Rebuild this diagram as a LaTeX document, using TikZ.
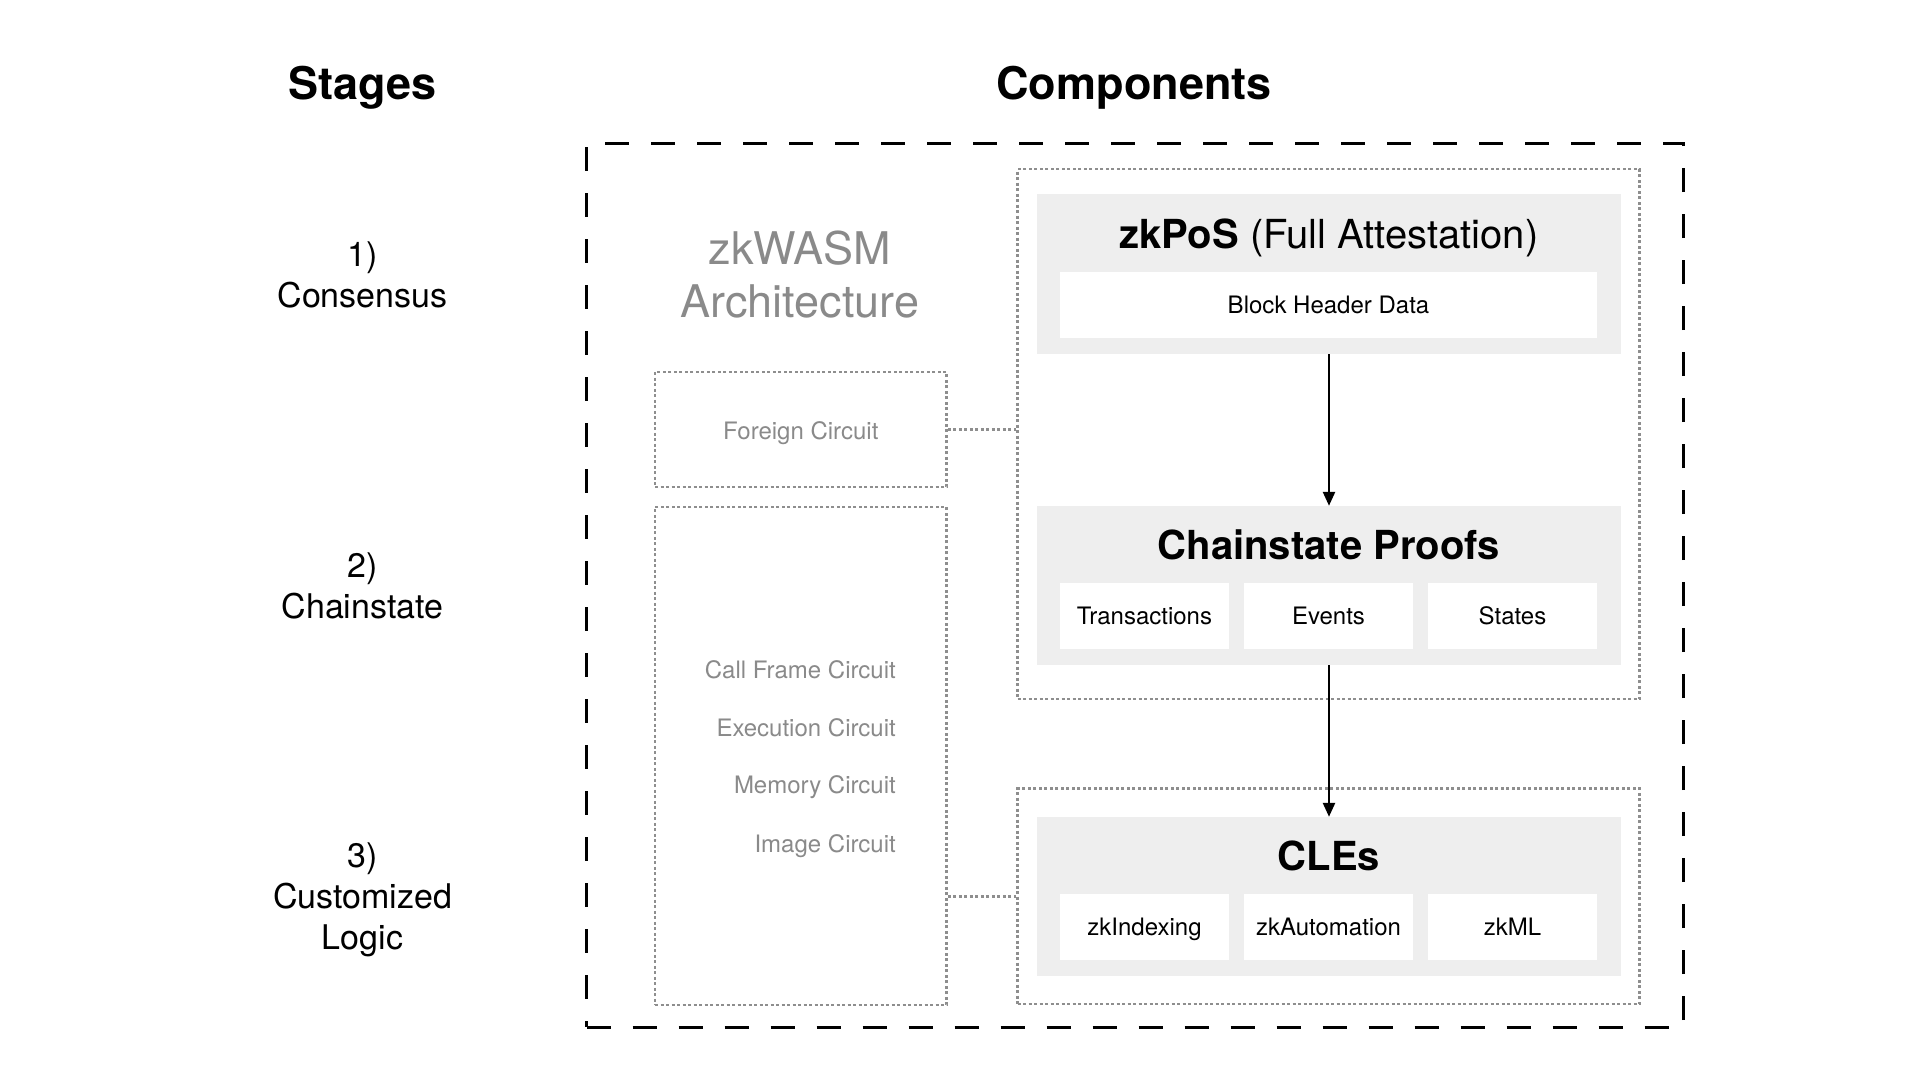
\documentclass[tikz,border=0pt]{standalone}
\usepackage{fontspec}
\setmainfont{TeX Gyre Heros}
\usetikzlibrary{arrows.meta,calc}
\definecolor{panel}{HTML}{EEEEEE}
\definecolor{dotgray}{HTML}{8E8E8E}
\definecolor{txtgray}{HTML}{8A8A8A}
\tikzset{
  head/.style={font=\fontsize{45}{52}\selectfont\bfseries},
  stagelbl/.style={font=\fontsize{34}{41}\selectfont, align=center},
  frame/.style={draw=black, line width=3pt, dash pattern=on 24pt off 22pt, minimum width=1097pt, minimum height=884pt, inner sep=0pt},
  dotbox/.style={draw=dotgray, line width=2.5pt, dash pattern=on 3pt off 2.5pt, inner sep=0pt},
  dotline/.style={draw=dotgray, line width=2.5pt, dash pattern=on 3pt off 2.5pt},
  graypanel/.style={fill=panel, draw=none, minimum width=584pt, inner sep=0pt},
  whitebox/.style={fill=white, draw=none, minimum height=66pt, inner sep=0pt, text height=17pt, text depth=0pt, font=\fontsize{24}{28}\selectfont},
  ptitle/.style={font=\fontsize{40}{46}\selectfont},
  circ/.style={anchor=east, text=txtgray, font=\fontsize{24}{28}\selectfont, inner sep=0pt},
  flow/.style={draw=black, line width=2.5pt, -{Triangle[length=14pt,width=12pt]}}
}
\begin{document}
\begin{tikzpicture}[x=1pt,y=-1pt]
\useasboundingbox[fill=white] (0,0) rectangle (1920,1080);

% column headings
\node[head] (stagesT) at (362.5,88) {Stages};
\node[head] (compT) at (1134,88) {Components};

% stage labels
\node[stagelbl] (s1) at (362.5,275) {1)\\Consensus};
\node[stagelbl] (s2) at (362.5,586) {2)\\Chainstate};
\node[stagelbl] (s3) at (362.5,900) {3)\\Customized\\Logic};

% outer dashed frame
\node[frame] (outer) at (1135,585) {};

% zkWASM column
\node[text=txtgray, align=center, font=\fontsize{45}{53}\selectfont] (wasmT) at (800,275) {zkWASM\\Architecture};
\node[dotbox, minimum width=291.6pt, minimum height=115pt] (foreign) at (800.8,429.5) {};
\node[text=txtgray, font=\fontsize{24}{28}\selectfont] (foreignT) at (800.8,433) {Foreign Circuit};
\node[dotbox, minimum width=291.6pt, minimum height=498pt] (core) at (800.8,756) {};
\node[circ] (cf) at (896,670) {Call Frame Circuit};
\node[circ] (ex) at (896,728) {Execution Circuit};
\node[circ] (mem) at (896,787) {Memory Circuit};
\node[circ] (img) at (896,846) {Image Circuit};

% dotted groups on the right
\node[dotbox, minimum width=622pt, minimum height=530pt] (grpA) at (1328.6,434) {};
\node[dotbox, minimum width=622pt, minimum height=215.4pt] (grpB) at (1328.6,896.3) {};

% zkPoS panel
\node[graypanel, minimum height=160.5pt] (pos) at (1329,273.75) {};
\node[ptitle] (posT) at (1329,238) {\textbf{zkPoS} (Full Attestation)};
\node[whitebox, minimum width=537pt] (bhd) at (1328.5,305) {Block Header Data};

% Chainstate panel
\node[graypanel, minimum height=159pt] (chain) at (1329,585.5) {};
\node[ptitle, font=\fontsize{40}{46}\selectfont\bfseries] (chainT) at (1329,545) {Chainstate Proofs};
\node[whitebox, minimum width=169pt] (tx) at (1144.5,616) {Transactions};
\node[whitebox, minimum width=169pt] (ev) at (1328.5,616) {Events};
\node[whitebox, minimum width=169pt] (st) at (1512.5,616) {States};

% CLEs panel
\node[graypanel, minimum height=159pt] (cle) at (1329,896.5) {};
\node[ptitle, font=\fontsize{40}{46}\selectfont\bfseries] (cleT) at (1329,856) {CLEs};
\node[whitebox, minimum width=169pt] (idx) at (1144.5,927) {zkIndexing};
\node[whitebox, minimum width=169pt] (auto) at (1328.5,927) {zkAutomation};
\node[whitebox, minimum width=169pt] (ml) at (1512.5,927) {zkML};

% flow arrows
\draw[flow] (pos.south) -- (chain.north);
\draw[flow] (chain.south) -- (cle.north);

% dotted links between zkWASM and the component groups
\draw[dotline] (foreign.east) -- (foreign.east -| grpA.west);
\draw[dotline] (core.east |- grpB.west) -- (grpB.west);
\end{tikzpicture}
\end{document}
